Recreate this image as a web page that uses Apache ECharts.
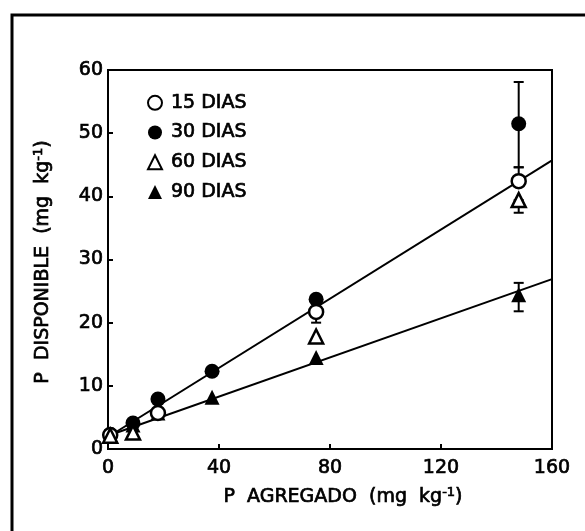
<!DOCTYPE html>
<html>
<head>
<meta charset="utf-8">
<script src="https://cdn.jsdelivr.net/npm/echarts@6/dist/echarts.min.js"></script>
<style>
  html, body { margin: 0; padding: 0; background: #fff; }
  #chart { width: 585px; height: 531px; }
</style>
</head>
<body>
<div id="chart"></div>
<script>
// P added (mg kg-1) and available P (mg kg-1) after each incubation time
// ('-' = point hidden under another marker)
const dosis = [0.8, 9, 18, 37.5, 75, 148];
const dias15 = [2.2, '-', 5.7, '-', 21.7, 42.4];
const dias30 = [2.3, 4.1, 7.9, 12.3, 23.7, 51.5];
const dias60 = [2.1, 2.6, '-', '-', 17.8, 39.4];
const dias90 = [2.2, 3.8, 5.7, 8.2, 14.5, 24.4];

// error bars: [x, low, high]
const err15 = [[75, 20.0, 21.7], [148, 42.4, 44.6]];
const err30 = [[148, 44.6, 58.1]];
const err60 = [[148, 37.4, 39.4]];
const err90 = [[148, 21.8, 26.3]];

// fitted lines (endpoints)
const recta1 = [[0, 1.9], [160, 45.7]];
const recta2 = [[0, 2.1], [160, 26.9]];

const xTicks = [0, 40, 80, 120, 160];
const yTicks = [0, 10, 20, 30, 40, 50, 60];
const nombres = ['15 DIAS', '30 DIAS', '60 DIAS', '90 DIAS'];
const tituloX = '{t|P  AGREGADO  (mg  kg}{s|-1}{t|)}';
const tituloY = '{t|P  DISPONIBLE  (mg  kg}{s|-1}{t|)}';

const FONT = 'DejaVu Sans';
const FS = 19;
// slightly heavier strokes for all lettering
const INK = { textBorderColor: '#000', textBorderWidth: 0.7 };
const pair = (ys) => dosis.map((x, i) => [x, ys[i]]);

function errorBars(data) {
  return {
    type: 'custom',
    silent: true,
    z: 1,
    data: data,
    renderItem: function (params, api) {
      const x = api.value(0);
      const lo = api.coord([x, api.value(1)]);
      const hi = api.coord([x, api.value(2)]);
      const cap = 5;
      const st = { stroke: '#000', lineWidth: 2 };
      return {
        type: 'group',
        children: [
          { type: 'line', shape: { x1: lo[0], y1: lo[1], x2: hi[0], y2: hi[1] }, style: st },
          { type: 'line', shape: { x1: lo[0] - cap, y1: lo[1], x2: lo[0] + cap, y2: lo[1] }, style: st },
          { type: 'line', shape: { x1: hi[0] - cap, y1: hi[1], x2: hi[0] + cap, y2: hi[1] }, style: st }
        ]
      };
    }
  };
}

// rich segments for the axis titles (zrender text: stroke/lineWidth outline the glyphs)
const titleRich = {
  t: { fontSize: FS, fontFamily: FONT, fill: '#000', stroke: '#000', lineWidth: 0.7 },
  s: { fontSize: 13, fontFamily: FONT, fill: '#000', stroke: '#000', lineWidth: 0.7, verticalAlign: 'top', padding: [0, 0, 9, 0] }
};

const chart = echarts.init(document.getElementById('chart'));
chart.setOption({
  animation: false,
  backgroundColor: '#fff',
  textStyle: { fontFamily: FONT, color: '#000' },
  graphic: [
    {
      type: 'rect',
      shape: { x: 12, y: 15, width: 640, height: 600 },
      style: { fill: 'none', stroke: '#000', lineWidth: 3 },
      silent: true
    },
    {
      type: 'text', x: 343, y: 497, silent: true,
      style: { text: tituloX, rich: titleRich, align: 'center', verticalAlign: 'middle' }
    },
    {
      type: 'text', x: 43, y: 262, rotation: Math.PI / 2, silent: true,
      style: { text: tituloY, rich: titleRich, align: 'center', verticalAlign: 'middle' }
    }
  ],
  grid: {
    left: 108, right: 33, top: 70, bottom: 82,
    show: true, borderColor: '#000', borderWidth: 2, backgroundColor: 'transparent'
  },
  legend: {
    orient: 'vertical',
    left: 142, top: 88,
    itemWidth: 14, itemHeight: 14, itemGap: 10,
    data: nombres,
    textStyle: Object.assign({ fontFamily: FONT, fontSize: FS, color: '#000', padding: [0, 0, 0, 4] }, INK)
  },
  xAxis: {
    type: 'value', min: 0, max: 160, interval: 40,
    axisLine: { lineStyle: { color: '#000', width: 2 } },
    axisTick: { inside: true, length: 5, lineStyle: { color: '#000', width: 2 } },
    axisLabel: Object.assign({
      color: '#000', fontSize: FS, fontFamily: FONT, margin: 10,
      formatter: (v) => xTicks.includes(v) ? String(v) : ''
    }, INK),
    splitLine: { show: false }
  },
  yAxis: {
    type: 'value', min: 0, max: 60, interval: 10,
    axisLine: { lineStyle: { color: '#000', width: 2 } },
    axisTick: { inside: true, length: 5, lineStyle: { color: '#000', width: 2 } },
    axisLabel: Object.assign({
      color: '#000', fontSize: FS, fontFamily: FONT, margin: 5,
      formatter: (v) => yTicks.includes(v) ? String(v) : ''
    }, INK),
    splitLine: { show: false }
  },
  series: [
    {
      type: 'line', data: recta1, symbol: 'none', silent: true, z: 0,
      lineStyle: { color: '#000', width: 2 }
    },
    {
      type: 'line', data: recta2, symbol: 'none', silent: true, z: 0,
      lineStyle: { color: '#000', width: 2 }
    },
    errorBars(err15), errorBars(err30), errorBars(err60), errorBars(err90),
    {
      name: '15 DIAS', type: 'scatter', data: pair(dias15), z: 5,
      symbol: 'circle', symbolSize: 14,
      itemStyle: { color: '#fff', borderColor: '#000', borderWidth: 2.5, opacity: 1 }
    },
    {
      name: '30 DIAS', type: 'scatter', data: pair(dias30), z: 3,
      symbol: 'circle', symbolSize: 15,
      itemStyle: { color: '#000', borderColor: '#000', borderWidth: 0, opacity: 1 }
    },
    {
      name: '60 DIAS', type: 'scatter', data: pair(dias60), z: 6,
      symbol: 'triangle', symbolSize: 14,
      itemStyle: { color: '#fff', borderColor: '#000', borderWidth: 2.5, opacity: 1 }
    },
    {
      name: '90 DIAS', type: 'scatter', data: pair(dias90), z: 2,
      symbol: 'triangle', symbolSize: 15,
      itemStyle: { color: '#000', borderColor: '#000', borderWidth: 0, opacity: 1 }
    }
  ]
});
</script>
</body>
</html>
